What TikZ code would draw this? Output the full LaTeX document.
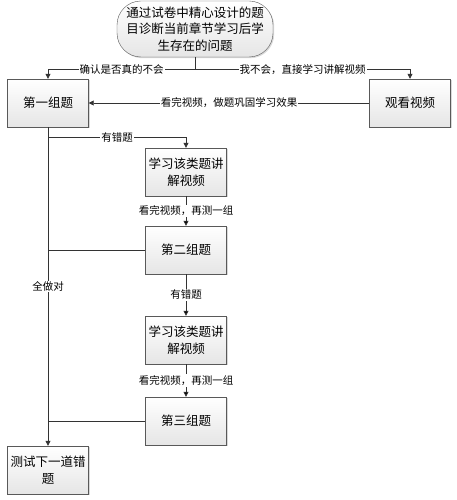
\documentclass[tikz,border=0pt]{standalone}
\usepackage{fontspec}
\setmainfont{Noto Sans CJK SC}
\usetikzlibrary{positioning, arrows.meta, calc, shadows}

\tikzset{
  box/.style={draw=gray!70!black, top color=white, bottom color=gray!20, minimum width=81pt, minimum height=48pt,
    align=center, inner sep=1pt, font=\fontsize{12.5}{17}\selectfont,
    drop shadow={shadow xshift=1.2pt, shadow yshift=-1.2pt, opacity=0.3}},
  oval/.style={box, rounded corners=24pt, minimum width=156pt, minimum height=56pt, font=\fontsize{12.5}{16.5}\selectfont},
  line/.style={draw=black!80, line width=0.8pt},
  arr/.style={line, -{Triangle[width=5pt,length=5pt]}},
  lbl/.style={fill=white, inner sep=1pt, anchor=center, font=\fontsize{10.5}{12}\selectfont}
}

\begin{document}
\begin{tikzpicture}[node distance=80pt, on grid]
   \useasboundingbox (-48pt,103pt) rectangle (408pt,-397pt);

   \node[box] (g1) at (0,0) {第一组题};
   \node[box] (watch) [right=362pt of g1] {观看视频};
   \node[oval] (diag) [above right=74pt and 147pt of g1] {通过试卷中精心设计的题\\目诊断当前章节学习后学\\生存在的问题};
   \node[box] (learn1) [below right=69pt and 138pt of g1] {学习该类题讲\\解视频};
   \node[box] (g2) [below=78pt of learn1] {第二组题};
   \node[box] (learn2) [below=90pt of g2] {学习该类题讲\\解视频};
   \node[box] (g3) [below=81pt of learn2] {第三组题};
   \node[box] (test) [below=367pt of g1] {测试下一道错\\题};

   % split under the diagnosis
   \draw[line] (diag.south) -- ++(0,-12pt) coordinate (split);
   \draw[arr] (split) -| node[lbl, pos=0.25] {确认是否真的不会} (g1.north);
   \draw[arr] (split) -| node[lbl, pos=0.25] {我不会，直接学习讲解视频} (watch.north);
   \draw[arr] (watch.west) -- node[lbl, midway] {看完视频，做题巩固学习效果} (g1.east);

   % main line down
   \draw[arr] (g1.south) -- node[lbl, midway] {全做对} (test.north);
   \coordinate (b1) at ($(g1.south)+(0,-10pt)$);
   \draw[arr] (b1) -| node[lbl, pos=0.25] {有错题} (learn1.north);

   \path[arr]
    (learn1) edge node[lbl, midway] {看完视频，再测一组} (g2)
    (g2)     edge node[lbl, midway] {有错题} (learn2)
    (learn2) edge node[lbl, midway] {看完视频，再测一组} (g3);

   \draw[line] (g2.west) -- (g2.west -| g1.south);
   \draw[line] (g3.west) -- (g3.west -| g1.south);
\end{tikzpicture}
\end{document}
